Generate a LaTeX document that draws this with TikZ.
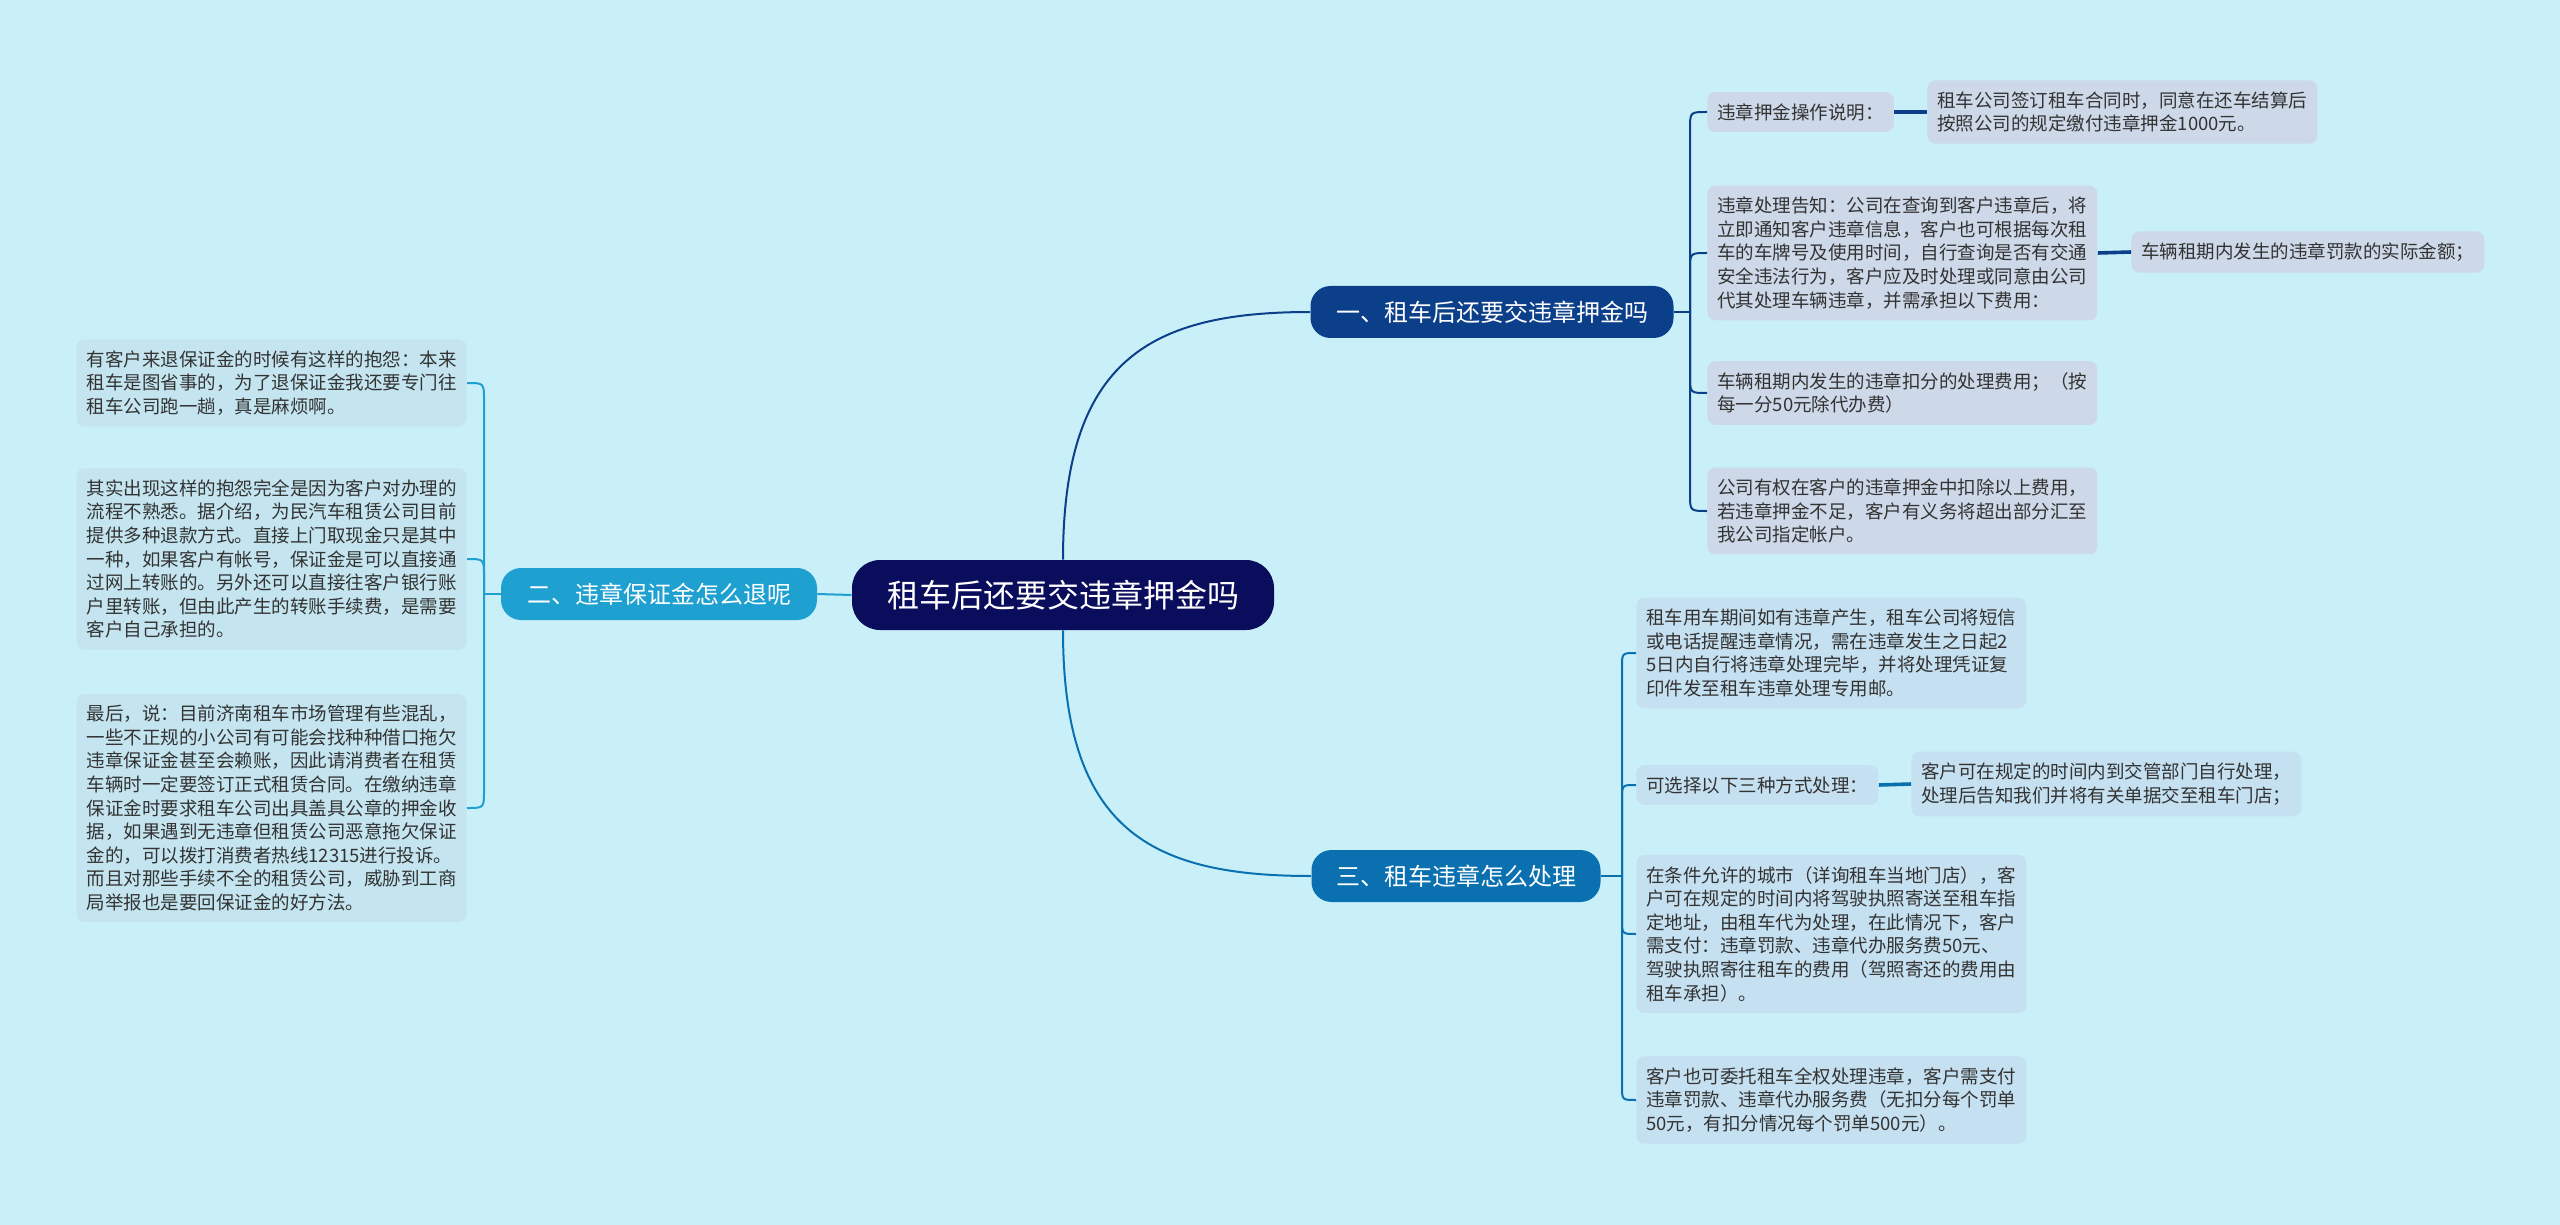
\documentclass[tikz,border=0pt]{standalone}
\usepackage{fontspec}
\setmainfont{Noto Sans CJK SC}
\usetikzlibrary{calc}
\definecolor{bg}{RGB}{201,240,248}
\definecolor{rootc}{RGB}{10,12,92}
\definecolor{bonec}{RGB}{12,63,138}
\definecolor{btwoc}{RGB}{30,160,208}
\definecolor{bthreec}{RGB}{10,112,176}
\definecolor{leafone}{RGB}{205,216,232}
\definecolor{leaftwo}{RGB}{196,229,240}
\definecolor{leafthree}{RGB}{197,224,240}
\definecolor{txt}{RGB}{51,51,51}
\tikzset{
  leaf/.style={rounded corners=4pt, align=left, inner xsep=5pt, inner ysep=5.6pt,
    font=\fontsize{9.25pt}{11.8pt}\selectfont, text=txt},
  leafa/.style={leaf, fill=leafone},
  leafb/.style={leaf, fill=leaftwo},
  leafc/.style={leaf, fill=leafthree},
  branch/.style={rounded corners=10pt, text=white, inner xsep=2pt, minimum height=26pt,
    font=\fontsize{12pt}{14pt}\selectfont},
  rootbox/.style={rounded corners=14pt, text=white, fill=rootc, inner xsep=2pt,
    minimum height=35pt, minimum width=211pt, font=\fontsize{16pt}{18pt}\selectfont},
  linea/.style={draw=bonec, line width=1pt},
  lineb/.style={draw=btwoc, line width=1pt},
  linec/.style={draw=bthreec, line width=1pt},
  thicka/.style={draw=bonec, line width=1.8pt},
  thickc/.style={draw=bthreec, line width=1.8pt},
}
\begin{document}
\begin{tikzpicture}[x=0.5pt,y=-0.5pt]
\fill[bg] (0,0) rectangle (2560,1225);
\useasboundingbox (0,0) rectangle (2560,1225);

% root and branches
\node[rootbox] (root) at (1063,595) {租车后还要交违章押金吗};
\node[branch, fill=bonec, minimum width=181.5pt] (b1) at (1492,312) {一、租车后还要交违章押金吗};
\node[branch, fill=btwoc, minimum width=158pt] (b2) at (659,594) {二、违章保证金怎么退呢};
\node[branch, fill=bthreec, minimum width=144.5pt] (b3) at (1456,876) {三、租车违章怎么处理};

% branch 1 children
\node[leafa, anchor=west] (c11) at (1707,112) {违章押金操作说明：};
\node[leafa, anchor=west] (c111) at (1927,112) {租车公司签订租车合同时，同意在还车结算后\\按照公司的规定缴付违章押金1000元。};
\node[leafa, anchor=west] (c12) at (1707,253) {违章处理告知：公司在查询到客户违章后，将\\立即通知客户违章信息，客户也可根据每次租\\车的车牌号及使用时间，自行查询是否有交通\\安全违法行为，客户应及时处理或同意由公司\\代其处理车辆违章，并需承担以下费用：};
\node[leafa, anchor=west] (c121) at (2131,252) {车辆租期内发生的违章罚款的实际金额；};
\node[leafa, anchor=west] (c13) at (1707,393) {车辆租期内发生的违章扣分的处理费用；（按\\每一分50元除代办费）};
\node[leafa, anchor=west] (c14) at (1707,511) {公司有权在客户的违章押金中扣除以上费用，\\若违章押金不足，客户有义务将超出部分汇至\\我公司指定帐户。};

% branch 3 children
\node[leafc, anchor=west] (c31) at (1636,653) {租车用车期间如有违章产生，租车公司将短信\\或电话提醒违章情况，需在违章发生之日起2\\5日内自行将违章处理完毕，并将处理凭证复\\印件发至租车违章处理专用邮。};
\node[leafc, anchor=west] (c32) at (1636,785) {可选择以下三种方式处理：};
\node[leafc, anchor=west] (c321) at (1911,784) {客户可在规定的时间内到交管部门自行处理，\\处理后告知我们并将有关单据交至租车门店；};
\node[leafc, anchor=west] (c33) at (1636,934) {在条件允许的城市（详询租车当地门店），客\\户可在规定的时间内将驾驶执照寄送至租车指\\定地址，由租车代为处理，在此情况下，客户\\需支付：违章罚款、违章代办服务费50元、\\驾驶执照寄往租车的费用（驾照寄还的费用由\\租车承担）。};
\node[leafc, anchor=west] (c34) at (1636,1100) {客户也可委托租车全权处理违章，客户需支付\\违章罚款、违章代办服务费（无扣分每个罚单\\50元，有扣分情况每个罚单500元）。};

% branch 2 children
\node[leafb, anchor=east] (c21) at (467,383) {有客户来退保证金的时候有这样的抱怨：本来\\租车是图省事的，为了退保证金我还要专门往\\租车公司跑一趟，真是麻烦啊。};
\node[leafb, anchor=east] (c22) at (467,559) {其实出现这样的抱怨完全是因为客户对办理的\\流程不熟悉。据介绍，为民汽车租赁公司目前\\提供多种退款方式。直接上门取现金只是其中\\一种，如果客户有帐号，保证金是可以直接通\\过网上转账的。另外还可以直接往客户银行账\\户里转账，但由此产生的转账手续费，是需要\\客户自己承担的。};
\node[leafb, anchor=east] (c23) at (467,808) {最后，说：目前济南租车市场管理有些混乱，\\一些不正规的小公司有可能会找种种借口拖欠\\违章保证金甚至会赖账，因此请消费者在租赁\\车辆时一定要签订正式租赁合同。在缴纳违章\\保证金时要求租车公司出具盖具公章的押金收\\据，如果遇到无违章但租赁公司恶意拖欠保证\\金的，可以拨打消费者热线12315进行投诉。\\而且对那些手续不全的租赁公司，威胁到工商\\局举报也是要回保证金的好方法。};

% root connectors
\draw[linea] (root.north) .. controls ($(root.north)+(0,-200)$) and ($(b1.west)+(-160,0)$) .. (b1.west);
\draw[linec] (root.south) .. controls ($(root.south)+(0,200)$) and ($(b3.west)+(-160,0)$) .. (b3.west);
\draw[lineb] (root.west) -- (b2.east);

% branch 1 spine
\coordinate (s1) at (1690,312);
\draw[linea] (b1.east) -- (s1);
\draw[linea] (s1) -- ($(s1 |- c11.west)+(0,17)$) .. controls (s1 |- c11.west) .. (c11.west);
\draw[linea] (s1) -- ($(s1 |- c12.west)+(0,17)$) .. controls (s1 |- c12.west) .. (c12.west);
\draw[linea] (s1) -- ($(s1 |- c13.west)+(0,-17)$) .. controls (s1 |- c13.west) .. (c13.west);
\draw[linea] (s1) -- ($(s1 |- c14.west)+(0,-17)$) .. controls (s1 |- c14.west) .. (c14.west);
\draw[thicka] (c11.east) -- (c111.west);
\draw[thicka] (c12.east) -- (c121.west);

% branch 3 spine
\coordinate (s3) at (1622,876);
\draw[linec] (b3.east) -- (s3);
\draw[linec] (s3) -- ($(s3 |- c31.west)+(0,14)$) .. controls (s3 |- c31.west) .. (c31.west);
\draw[linec] (s3) -- ($(s3 |- c32.west)+(0,14)$) .. controls (s3 |- c32.west) .. (c32.west);
\draw[linec] (s3) -- ($(s3 |- c33.west)+(0,-14)$) .. controls (s3 |- c33.west) .. (c33.west);
\draw[linec] (s3) -- ($(s3 |- c34.west)+(0,-14)$) .. controls (s3 |- c34.west) .. (c34.west);
\draw[thickc] (c32.east) -- (c321.west);

% branch 2 spine
\coordinate (s2) at (484,594);
\draw[lineb] (b2.west) -- (s2);
\draw[lineb] (s2) -- ($(s2 |- c21.east)+(0,17)$) .. controls (s2 |- c21.east) .. (c21.east);
\draw[lineb] (s2) -- ($(s2 |- c22.east)+(0,17)$) .. controls (s2 |- c22.east) .. (c22.east);
\draw[lineb] (s2) -- ($(s2 |- c23.east)+(0,-17)$) .. controls (s2 |- c23.east) .. (c23.east);
\end{tikzpicture}
\end{document}
